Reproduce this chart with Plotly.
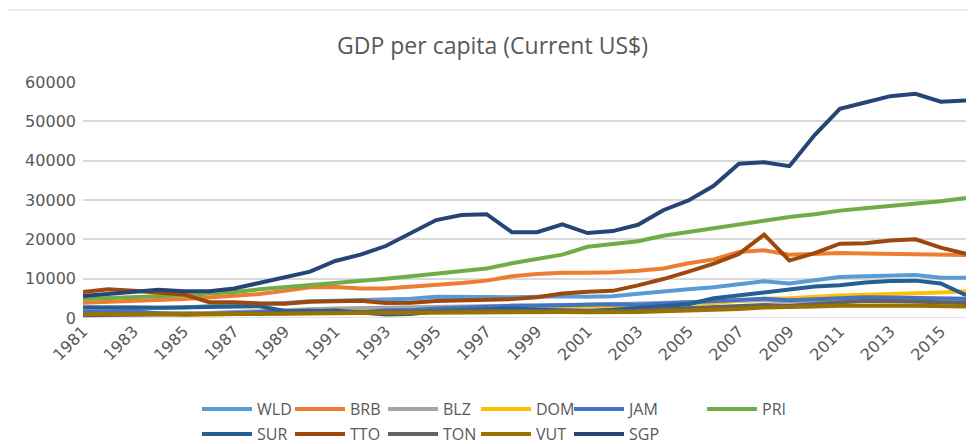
import plotly.graph_objects as go

years = list(range(1981, 2017))

WLD = [2700, 2600, 2600, 2600, 2650, 3050, 3400, 3700, 3800, 4250, 4400, 4600, 4600, 4900, 5400, 5450,
       5350, 5250, 5400, 5500, 5400, 5550, 6150, 6800, 7300, 7800, 8650, 9350, 8800, 9550, 10450, 10600,
       10800, 10950, 10250, 10250]
BRB = [3900, 4100, 4300, 4600, 4800, 5200, 5600, 6100, 6900, 7800, 7900, 7500, 7500, 7900, 8400, 8900,
       9500, 10600, 11200, 11500, 11500, 11600, 12000, 12600, 13900, 14900, 16800, 17200, 16100, 16300,
       16500, 16400, 16300, 16200, 16100, 16000]
BLZ = [1300, 1250, 1250, 1300, 1200, 1300, 1500, 1800, 2000, 2200, 2400, 2500, 2600, 2700, 2800, 2800,
       2900, 2900, 3000, 3300, 3400, 3500, 3700, 3800, 4000, 4200, 4400, 4500, 4200, 4300, 4500, 4600,
       4700, 4800, 4800, 4800]
DOM = [1500, 1500, 1400, 1000, 800, 900, 1000, 1000, 1100, 1200, 1300, 1500, 1600, 1700, 1900, 2000,
       2200, 2300, 2500, 2800, 2900, 3000, 2200, 2300, 3600, 3800, 4400, 4900, 5000, 5400, 5700, 5900,
       6000, 6300, 6500, 6800]
JAM = [1500, 1600, 1700, 1200, 900, 1100, 1300, 1500, 1700, 1900, 1500, 1400, 2000, 2000, 2400, 2700,
       3000, 3100, 3100, 3300, 3300, 3500, 3400, 3700, 4000, 4300, 4600, 4900, 4500, 4800, 5200, 5300,
       5200, 5100, 5100, 4900]
PRI = [4800, 5000, 5200, 5600, 5800, 6200, 6600, 7300, 7800, 8400, 8900, 9400, 10000, 10600, 11300, 11900,
       12600, 13900, 14900, 16100, 18100, 18700, 19500, 20900, 21900, 22900, 23700, 24900, 25700, 26400,
       27300, 27900, 28500, 28900, 29700, 30500]
SUR = [2700, 2800, 2700, 2600, 2700, 2800, 2900, 3000, 1800, 1700, 1900, 1500, 900, 1000, 1700, 2000,
       2200, 2400, 2100, 1900, 1800, 2100, 2500, 3000, 3500, 5000, 5800, 6600, 7200, 8000, 8300, 9000,
       9400, 9500, 8800, 5800]
TTO = [6600, 7300, 6900, 6500, 6000, 4000, 4000, 3700, 3600, 4100, 4300, 4400, 3800, 3900, 4300, 4500,
       4500, 4800, 5300, 6200, 6700, 6900, 8300, 9900, 11800, 13800, 16300, 21200, 14600, 16500, 18900,
       19000, 19700, 20000, 17900, 16300]
TON = [700, 750, 750, 800, 750, 800, 950, 1100, 1200, 1300, 1400, 1500, 1600, 1800, 1900, 2000,
       1900, 1800, 1800, 1800, 1700, 1700, 1900, 2200, 2500, 2800, 3000, 3300, 3100, 3500, 4000, 4400,
       4300, 4200, 3900, 3800]
VUT = [1000, 950, 950, 1100, 950, 950, 1000, 1100, 1150, 1200, 1250, 1300, 1300, 1350, 1400, 1450,
       1500, 1450, 1500, 1500, 1450, 1400, 1500, 1700, 1900, 2000, 2300, 2700, 2700, 2900, 3100, 3200,
       3200, 3100, 2900, 2900]
SGP = [5600, 6100, 6600, 7200, 6800, 6800, 7500, 9000, 10400, 11800, 14500, 16100, 18300, 21600, 24900,
       26200, 26400, 21800, 21800, 23800, 21600, 22100, 23700, 27400, 29900, 33600, 39200, 39600, 38600,
       46500, 53200, 54800, 56400, 57000, 55000, 55300]

series = [
    ("WLD", WLD, "#5B9BD5", "legend"),
    ("BRB", BRB, "#ED7D31", "legend"),
    ("BLZ", BLZ, "#A5A5A5", "legend"),
    ("DOM", DOM, "#FFC000", "legend"),
    ("JAM", JAM, "#4472C4", "legend"),
    ("PRI", PRI, "#70AD47", "legend3"),
    ("SUR", SUR, "#255E91", "legend2"),
    ("TTO", TTO, "#9E480E", "legend2"),
    ("TON", TON, "#636363", "legend2"),
    ("VUT", VUT, "#997300", "legend2"),
    ("SGP", SGP, "#264478", "legend2"),
]

fig = go.Figure()
for name, vals, color, lg in series:
    fig.add_trace(go.Scatter(x=years, y=vals, name=name, mode="lines",
                             line=dict(color=color, width=4), legend=lg))

leg_common = dict(orientation="h", font=dict(family="Open Sans", size=16, color="#595959"),
                  entrywidth=28, itemwidth=50, bgcolor="rgba(0,0,0,0)", yanchor="middle",
                  xanchor="left", tracegroupgap=0)

# page body has an 8px margin, so the figure is drawn 8px smaller and offset
PW, PH = 883, 236  # plot-area size in px
fig.update_layout(
    width=969, height=436,
    margin=dict(l=75, r=11, t=74, b=126, autoexpand=False),
    paper_bgcolor="white", plot_bgcolor="white",
    title=dict(text="GDP per capita (Current US$)", x=0.5, xanchor="center", y=0.913, yanchor="middle",
               font=dict(family="Open Sans", size=23, color="#595959")),
    showlegend=True,
    legend=dict(x=114 / PW, y=(318 - 409) / PH, **leg_common),
    legend2=dict(x=114 / PW, y=(318 - 434) / PH, **leg_common),
    legend3=dict(x=619 / PW, y=(318 - 409) / PH, **leg_common),
    xaxis=dict(range=[1981, 2016], tickmode="array", tickvals=years[::2],
               ticktext=[str(y) for y in years[::2]], tickangle=-45,
               showgrid=False, zeroline=False, showline=False, ticks="",
               tickfont=dict(family="DejaVu Sans", size=16, color="#595959")),
    yaxis=dict(range=[0, 60000], dtick=10000, tickformat="d", showgrid=True, gridcolor="#D9D9D9",
               gridwidth=1.5, zeroline=False, showline=False, ticks="", ticklabelstandoff=6,
               tickfont=dict(family="DejaVu Sans", size=16, color="#595959")),
)

# 0 baseline & chart-area border
fig.add_shape(type="line", xref="paper", yref="y", x0=0, x1=1, y0=0, y1=0,
              line=dict(color="#D9D9D9", width=1.5), layer="below")
fig.add_shape(type="line", xref="paper", yref="paper", x0=(3 - 83) / PW, x1=(977 - 83) / PW,
              y0=(318 - 10) / PH, y1=(318 - 10) / PH, line=dict(color="#D9D9D9", width=1))
fig.add_shape(type="line", xref="paper", yref="paper", x0=(3 - 83) / PW, x1=(3 - 83) / PW,
              y0=(318 - 10) / PH, y1=(318 - 444) / PH, line=dict(color="#D9D9D9", width=1))

fig.write_html("out.html")
